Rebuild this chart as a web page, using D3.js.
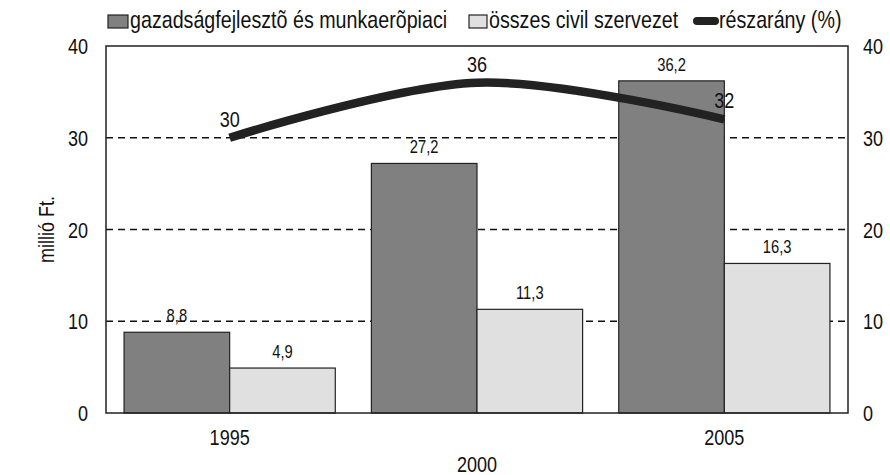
<!DOCTYPE html>
<html>
<head>
<meta charset="utf-8">
<script src="https://cdn.jsdelivr.net/npm/d3@7"></script>
<style>
  body { margin: 0; background: #fff; }
  text { font-family: "Liberation Sans", Arial, sans-serif; fill: #111; }
</style>
</head>
<body>
<div id="chart"></div>
<script>
var years = ["1995", "2000", "2005"];
var gazdasag = [8.8, 27.2, 36.2];
var civil = [4.9, 11.3, 16.3];
var reszarany = [30, 36, 32];
var yTicks = [0, 10, 20, 30, 40];

var width = 890, height = 475;
var margin = {top: 46, left: 106, right: 42, bottom: 62};
var innerW = width - margin.left - margin.right;
var innerH = height - margin.top - margin.bottom;
var squeeze = 0.82; // narrow look of the original font

var svg = d3.select("#chart")
    .append("svg")
    .attr("width", width)
    .attr("height", height);

var g = svg.append("g")
    .attr("transform", "translate(" + margin.left + "," + margin.top + ")");

// narrow text helper
function label(parent, px, py, txt, size, anchor) {
    return parent.append("text")
        .attr("transform", "translate(" + px + "," + py + ") scale(" + squeeze + ",1)")
        .attr("text-anchor", anchor || "middle")
        .style("font-size", size + "px")
        .text(txt);
}

// scales
var x = d3.scaleBand().domain(years).range([0, innerW]).paddingInner(0.146).paddingOuter(0.073);
var x1 = d3.scaleBand().domain(["g", "c"]).range([0, x.bandwidth()]);
var y = d3.scaleLinear().domain([0, 40]).range([innerH, 0]);
var xc = function (d) { return x(d) + x.bandwidth() / 2; };

// gridlines
g.append("g")
    .selectAll("line")
    .data([10, 20, 30])
    .join("line")
    .attr("x1", 0).attr("x2", innerW)
    .attr("y1", d => y(d)).attr("y2", d => y(d))
    .attr("stroke", "#111")
    .attr("stroke-width", 1.5)
    .attr("stroke-dasharray", "7,5");

// left and right axes (labels only)
var yAxisL = d3.axisLeft(y).tickValues(yTicks).tickSize(0).tickPadding(18 / squeeze).tickFormat(d3.format("d"));
var yAxisR = d3.axisRight(y).tickValues(yTicks).tickSize(0).tickPadding(15 / squeeze).tickFormat(d3.format("d"));
var gl = g.append("g").call(yAxisL);
var gr = g.append("g").attr("transform", "translate(" + innerW + ",0)").call(yAxisR);
[gl, gr].forEach(function (a) {
    a.select(".domain").remove();
    a.selectAll("text")
        .style("font-size", "22px")
        .attr("fill", "#111")
        .attr("dy", "0.35em")
        .attr("transform", "scale(" + squeeze + ",1)");
});

// bars
var groups = g.append("g")
    .selectAll("g")
    .data(years)
    .join("g")
    .attr("transform", d => "translate(" + x(d) + ",0)");

groups.append("rect")
    .attr("x", x1("g"))
    .attr("width", x1.bandwidth())
    .attr("y", (d, i) => y(gazdasag[i]))
    .attr("height", (d, i) => innerH - y(gazdasag[i]))
    .attr("fill", "#808080")
    .attr("stroke", "#222")
    .attr("stroke-width", 1.2);

groups.append("rect")
    .attr("x", x1("c"))
    .attr("width", x1.bandwidth())
    .attr("y", (d, i) => y(civil[i]))
    .attr("height", (d, i) => innerH - y(civil[i]))
    .attr("fill", "#e0e0e0")
    .attr("stroke", "#222")
    .attr("stroke-width", 1.2);

var fmt = function (v) { return String(v).replace(".", ","); };

groups.each(function (d, i) {
    var gg = d3.select(this);
    label(gg, x1("g") + x1.bandwidth() / 2, y(gazdasag[i]) - 10, fmt(gazdasag[i]), 18);
    label(gg, x1("c") + x1.bandwidth() / 2, y(civil[i]) - 10, fmt(civil[i]), 18);
});

// frame
g.append("rect")
    .attr("width", innerW).attr("height", innerH)
    .attr("fill", "none")
    .attr("stroke", "#222")
    .attr("stroke-width", 1.5);

// x axis labels (staggered)
var gx = g.append("g").attr("transform", "translate(0," + innerH + ")");
years.forEach(function (yr, i) {
    label(gx, xc(yr), i % 2 === 0 ? 32 : 59, yr, 22);
});

// share line
var line = d3.line()
    .x((d, i) => xc(years[i]))
    .y(d => y(d))
    .curve(d3.curveCardinal.tension(0));

g.append("path")
    .datum(reszarany)
    .attr("fill", "none")
    .attr("stroke", "#222")
    .attr("stroke-width", 8.5)
    .attr("stroke-linecap", "butt")
    .attr("d", line);

reszarany.forEach(function (v, i) {
    label(g, xc(years[i]), y(v) - 11, v, 22);
});

// y title
svg.append("text")
    .attr("transform", "translate(46," + (margin.top + innerH / 2) + ") rotate(-90) scale(" + squeeze + ",1)")
    .attr("text-anchor", "middle")
    .attr("dy", "0.35em")
    .style("font-size", "22px")
    .text("millió Ft.");

// legend
var lg = svg.append("g").attr("transform", "translate(0,28)");
lg.append("rect").attr("x", 108).attr("y", -13).attr("width", 20).attr("height", 13)
    .attr("fill", "#808080").attr("stroke", "#222").attr("stroke-width", 1.2);
label(lg, 130, 0, "gazadságfejlesztõ és munkaerõpiaci", 24, "start");
lg.append("rect").attr("x", 469).attr("y", -13).attr("width", 18).attr("height", 13)
    .attr("fill", "#e0e0e0").attr("stroke", "#222").attr("stroke-width", 1.2);
label(lg, 489, 0, "összes civil szervezet", 24, "start");
lg.append("line").attr("x1", 697).attr("x2", 715).attr("y1", -7).attr("y2", -7)
    .attr("stroke", "#222").attr("stroke-width", 8).attr("stroke-linecap", "round");
label(lg, 719, 0, "részarány (%)", 24, "start");
</script>
</body>
</html>
